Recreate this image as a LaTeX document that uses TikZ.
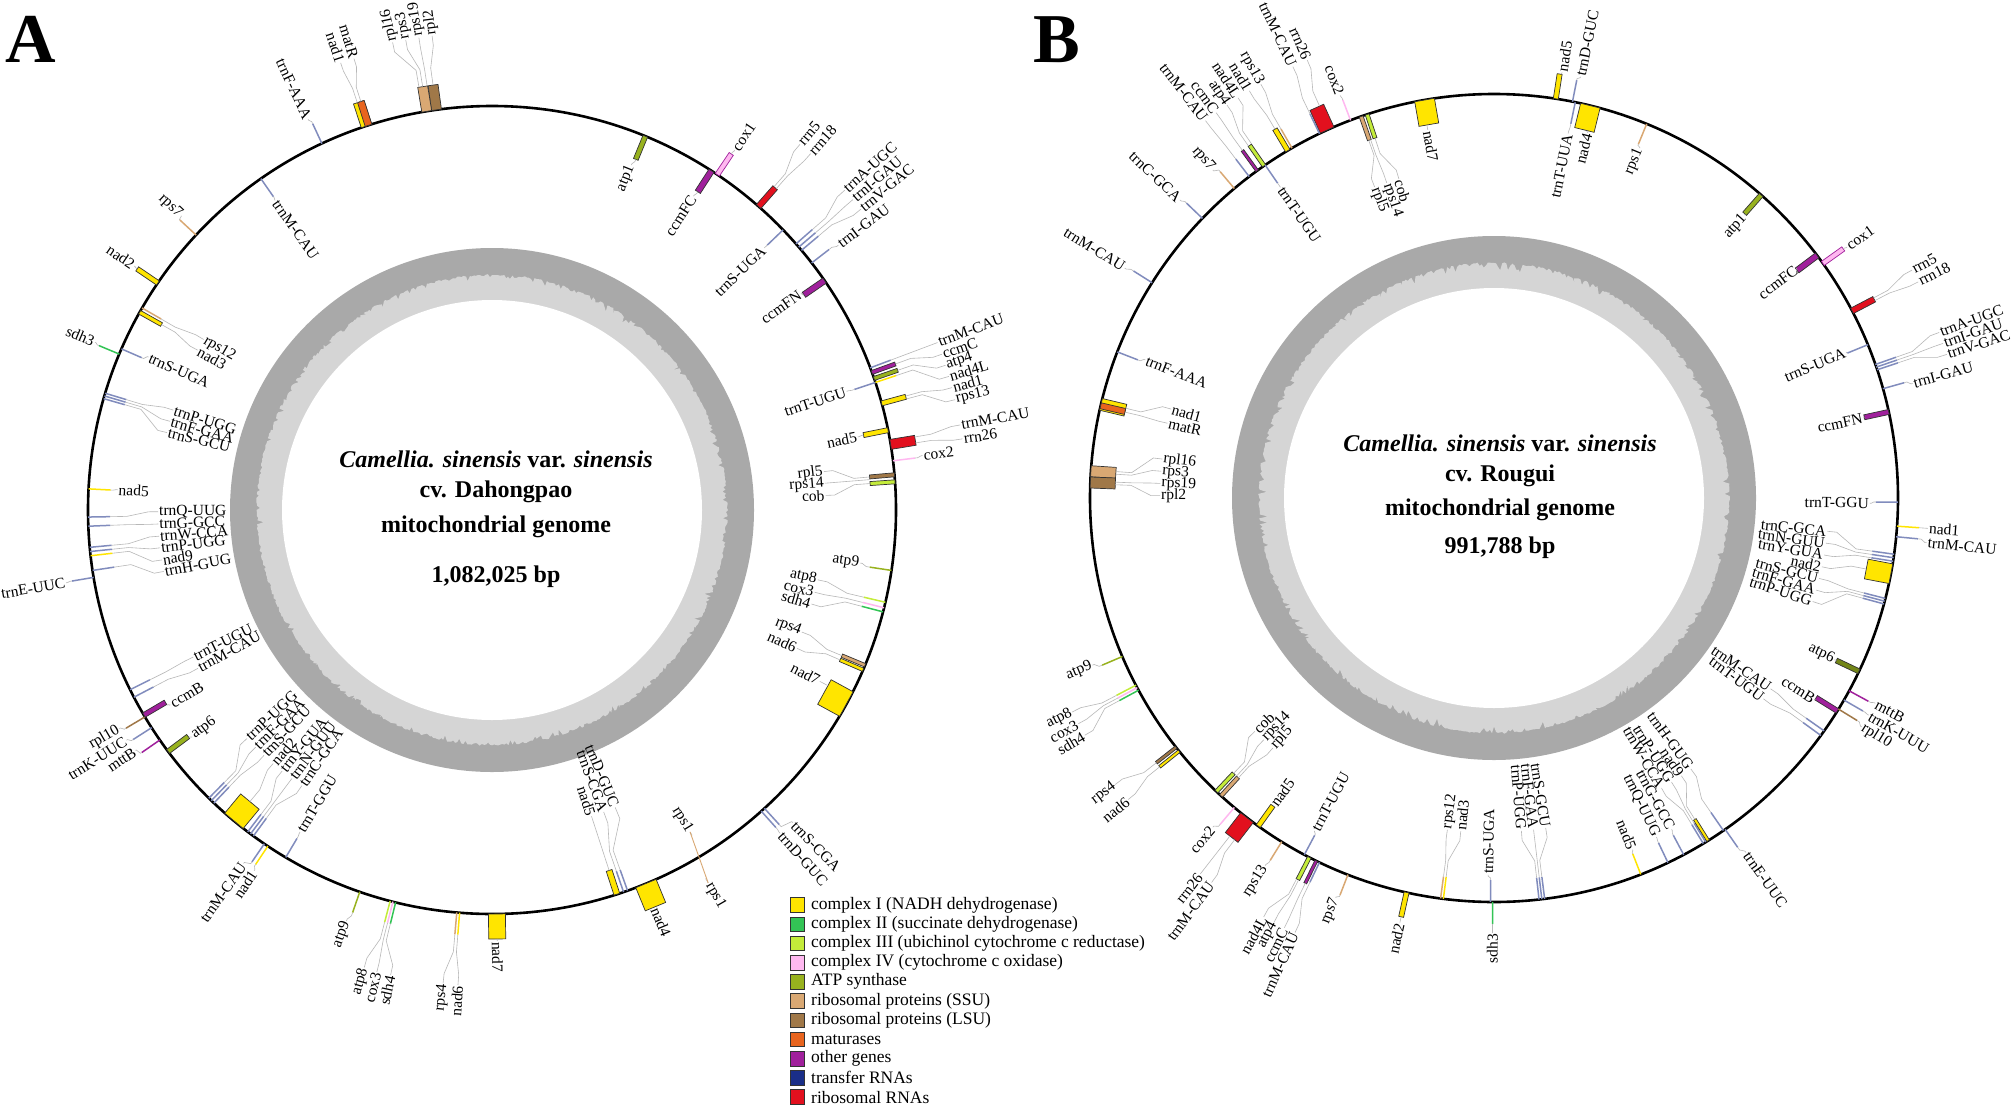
\documentclass[tikz,border=0pt]{standalone}
\usepackage{fontspec}
\setmainfont{Liberation Serif}
\definecolor{cI}{HTML}{FFE500}
\definecolor{cII}{HTML}{33C455}
\definecolor{cIII}{HTML}{C4EC3A}
\definecolor{cIV}{HTML}{FFB8F0}
\definecolor{cATP}{HTML}{98B21E}
\definecolor{cSSU}{HTML}{D9A873}
\definecolor{cLSU}{HTML}{A07848}
\definecolor{cMAT}{HTML}{E8641E}
\definecolor{cOTH}{HTML}{A0209C}
\definecolor{cTRNA}{HTML}{1A2E88}
\definecolor{cRRNA}{HTML}{E2101E}
\colorlet{ctr}{cTRNA!55}
\definecolor{gcdark}{HTML}{A9A9A9}
\definecolor{gclight}{HTML}{D5D5D5}
\tikzset{
  glab/.style={font=\fontsize{15.5}{17}\selectfont, inner sep=1pt},
  lead/.style={draw=black!28, line width=0.6pt},
  gedge/.style={draw=black!80, line width=0.7pt},
  ctext/.style={font=\fontsize{24}{28}\selectfont\bfseries, anchor=base, inner sep=0pt},
  legbox/.style={draw=black!80, line width=0.7pt, minimum size=14.5pt, inner sep=0pt},
  legtxt/.style={font=\fontsize{17.5}{19}\selectfont, anchor=west, inner sep=0pt},
  plab/.style={font=\fontsize{70}{72}\selectfont\bfseries, anchor=base, inner sep=0pt}
}
\newcounter{nl}
% outward reading, anchor west (outside, right-hand style)
\newcommand{\labO}[5]{\stepcounter{nl}\node[glab,anchor=west,rotate={#1}] (n\thenl) at ({#1}:{#2}) {#3};
  \draw[lead] ({#4}:{#5}) -- ({#4}:{#5+0.35*(#2-#5)}) -- ({#1}:{#2-0.2*(#2-#5)}) -- (n\thenl.west);}
% outward reading, anchor east (inside, right-hand style)
\newcommand{\labOE}[5]{\stepcounter{nl}\node[glab,anchor=east,rotate={#1}] (n\thenl) at ({#1}:{#2}) {#3};
  \draw[lead] ({#4}:{#5}) -- ({#4}:{#5+0.35*(#2-#5)}) -- ({#1}:{#2-0.2*(#2-#5)}) -- (n\thenl.east);}
% inward reading, anchor west (inside, left-hand style)
\newcommand{\labI}[5]{\stepcounter{nl}\node[glab,anchor=west,rotate={#1+180}] (n\thenl) at ({#1}:{#2}) {#3};
  \draw[lead] ({#4}:{#5}) -- ({#4}:{#5+0.35*(#2-#5)}) -- ({#1}:{#2-0.2*(#2-#5)}) -- (n\thenl.west);}
% inward reading, anchor east (outside, left-hand style)
\newcommand{\labIE}[5]{\stepcounter{nl}\node[glab,anchor=east,rotate={#1+180}] (n\thenl) at ({#1}:{#2}) {#3};
  \draw[lead] ({#4}:{#5}) -- ({#4}:{#5+0.35*(#2-#5)}) -- ({#1}:{#2-0.2*(#2-#5)}) -- (n\thenl.east);}
\newcommand{\genebox}[4]{\filldraw[rotate={#1}, fill=#4, gedge] (404,{-(#2)/2}) rectangle ({404+(#3)},{(#2)/2});}
\newcommand{\genetick}[3]{\draw[#3, line width=1.5pt] ({#1}:404) -- ({#1}:{404+(#2)});}
\newcommand{\gcring}{%
  \fill[gcdark] (0,0) circle[radius=262];
  \fill[gclight] (0:236) \foreach \a in {1,...,719} { -- ({\a/2}:{236-8*pow(rnd,6)-1.3*rnd}) } -- cycle;
  \fill[white] (0,0) circle[radius=210];}
\begin{document}
\begin{tikzpicture}[x=1pt,y=1pt]
\pgfmathsetseed{7}
\useasboundingbox (0,-1111) rectangle (2013,0);
\fill[white] (0,-1111) rectangle (2013,0);

\node[plab] (pA) at (31,-62) {A};
\node[plab] (pB) at (1057,-62) {B};

%================ PANEL A =================
\begin{scope}[shift={(492,-510)}]
\gcring
\draw[line width=2.6pt] (0,0) circle[radius=404];
% genes
\genebox{97.9}{10}{25}{cLSU}
\genebox{99.3}{10}{25}{cSSU}
\genebox{108.1}{11}{25}{cI}
\genebox{107.8}{7}{25}{cMAT}
\genetick{114.9}{22}{ctr}
\genebox{67.7}{5}{-25}{cATP}
\genebox{57.1}{6}{-25}{cOTH}
\filldraw[rotate=56.1, fill=cIV, draw=cOTH, line width=0.7pt] (404,-2.5) rectangle (429,2.5);
\genebox{48.7}{6}{25}{cRRNA}
\genetick{41.2}{22}{ctr}\genetick{40.6}{22}{ctr}\genetick{40.0}{22}{ctr}\genetick{37.7}{22}{ctr}
\genetick{43.9}{-22}{ctr}
\genebox{34.6}{6}{-25}{cOTH}
\genetick{20.6}{22}{ctr}
\genebox{19.9}{4}{25}{cOTH}
\genebox{19.0}{4}{25}{cATP}
\genetick{18.4}{22}{cI}
\genebox{15.3}{5}{25}{cI}
\genetick{18.4}{-22}{ctr}
\genebox{11.4}{5}{-25}{cI}
\genebox{9.35}{10}{25}{cRRNA}
\genetick{7.0}{22}{cIV}
\genebox{5.0}{4}{-25}{cLSU}
\genebox{4.0}{4}{-25}{cIII}
\genetick{-8.6}{-22}{cATP}
\genetick{-13.2}{-22}{cIII}\genetick{-14.0}{-22}{cIV}\genetick{-14.6}{-22}{cII}
\genebox{-22.6}{3.5}{-25}{cSSU}\genebox{-23.3}{3.5}{-25}{cI}
\genebox{-28.7}{28}{-25}{cI}
\genetick{-47.6}{22}{ctr}\genetick{-48.2}{22}{ctr}
\genebox{-67.6}{22}{25}{cI}
\genebox{-72.0}{6}{-25}{cI}
\genetick{-70.4}{-22}{ctr}\genetick{-71.0}{-22}{ctr}
\genebox{-89.3}{17}{25}{cI}
\genetick{265.0}{22}{cSSU}\genetick{265.4}{22}{cI}
\genetick{255.4}{22}{cIII}\genetick{255.8}{22}{cIV}\genetick{256.2}{22}{cII}
\genetick{250.9}{22}{cATP}
\genetick{239.3}{-22}{ctr}
\genetick{236.3}{22}{cI}\genetick{235.7}{22}{ctr}
\genebox{230.3}{24}{-25}{cI}
\genetick{225.5}{-22}{ctr}\genetick{226.0}{-22}{ctr}\genetick{226.5}{-22}{ctr}
\genetick{232.8}{-22}{ctr}\genetick{233.3}{-22}{ctr}\genetick{233.8}{-22}{ctr}
\genetick{210.8}{22}{cLSU}\genetick{212.6}{22}{ctr}\genetick{214.7}{22}{cOTH}
\genebox{210.5}{5}{-25}{cOTH}
\genebox{216.7}{5}{-25}{cATP}
\genetick{206.4}{-22}{ctr}\genetick{207.6}{-22}{ctr}
\genetick{189.6}{22}{ctr}
\genetick{181.0}{-22}{ctr}\genetick{182.3}{-22}{ctr}\genetick{185.3}{-22}{ctr}\genetick{185.9}{-22}{ctr}\genetick{186.5}{-22}{cI}\genetick{188.6}{-22}{ctr}
\genetick{177.0}{-22}{cI}
\genetick{163.2}{-22}{ctr}\genetick{163.6}{-22}{ctr}\genetick{164.0}{-22}{ctr}
\genetick{157.3}{22}{cII}\genetick{156.5}{-22}{ctr}
\genetick{150.0}{-22}{cSSU}\genebox{150.7}{4}{-25}{cI}
\genebox{145.8}{5}{25}{cI}
\genetick{137.1}{22}{cSSU}
\genetick{124.9}{-22}{ctr}
% labels
\labIE{115.2}{432}{trnF-AAA}{114.9}{426}
\labIE{107.0}{472}{matR}{107.8}{429}
\labIE{108.7}{472}{nad1}{108.3}{429}
\labO{97.2}{478}{rpl2}{97.9}{429}
\labO{98.8}{478}{rps19}{98.7}{429}
\labO{100.4}{478}{rps3}{99.3}{429}
\labO{102.0}{478}{rpl16}{99.8}{429}
\labOE{68.0}{372}{atp1}{67.7}{379}
\labOE{57.3}{373}{ccmFC}{57.1}{379}
\labO{56.0}{434}{cox1}{56.1}{429}
\labO{49.9}{478}{rrn5}{48.9}{429}
\labO{48.2}{478}{rrn18}{48.5}{429}
\labO{42.2}{476}{trnA-UGC}{41.2}{426}
\labO{40.7}{476}{trnI-GAU}{40.6}{426}
\labO{39.2}{476}{trnV-GAC}{40.0}{426}
\labO{37.4}{436}{trnI-GAU}{37.7}{426}
\labOE{43.9}{378}{trnS-UGA}{43.9}{382}
\labOE{35.0}{377}{ccmFN}{34.6}{379}
\labO{20.6}{476}{trnM-CAU}{20.6}{426}
\labO{19.1}{476}{ccmC}{19.9}{429}
\labO{17.7}{476}{atp4}{19.0}{429}
\labO{16.3}{476}{nad4L}{18.4}{426}
\labO{14.9}{476}{nad1}{15.4}{429}
\labO{13.4}{476}{rps13}{15.0}{429}
\labOE{18.5}{374}{trnT-UGU}{18.4}{382}
\labOE{11.3}{373}{nad5}{11.4}{379}
\labO{10.3}{476}{trnM-CAU}{9.8}{429}
\labO{8.6}{476}{rrn26}{9.0}{429}
\labO{7.2}{434}{cox2}{7.0}{426}
\labOE{6.6}{334}{rpl5}{5.0}{379}
\labOE{4.6}{334}{rps14}{4.6}{379}
\labOE{2.5}{334}{cob}{4.0}{379}
\labOE{-8.2}{372}{atp9}{-8.6}{382}
\labOE{-12.1}{333}{atp8}{-13.2}{382}
\labOE{-14.3}{333}{cox3}{-14.0}{382}
\labOE{-16.4}{333}{sdh4}{-14.6}{382}
\labOE{-21.5}{333}{rps4}{-22.6}{379}
\labOE{-24.4}{335}{nad6}{-23.3}{379}
\labOE{-27.6}{370}{nad7}{-27.6}{379}
\labO{-46.1}{434}{trnS-CGA}{-47.6}{426}
\labO{-48.3}{433}{trnD-GUC}{-48.2}{426}
\labOE{-58.4}{378}{rps1}{-58.4}{382}
\edef\rpsin{n\thenl}
\labO{-59.9}{431}{rps1}{-59.9}{426}
\edef\rpsout{n\thenl}
\draw[cSSU, line width=0.9pt] (\rpsin.east) -- (\rpsout.west);
\labO{-67.7}{429}{nad4}{-67.7}{429}
\labOE{-67.5}{322}{trnD-GUC}{-70.4}{382}
\labOE{-69.7}{322}{trnS-CGA}{-71.0}{382}
\labOE{-72.0}{322}{nad5}{-72.0}{379}
\labO{-89.3}{431}{nad7}{-89.3}{429}
\labIE{264.1}{476}{rps4}{265.0}{426}
\labIE{265.9}{476}{nad6}{265.4}{426}
\labIE{254.4}{475}{atp8}{255.4}{426}
\labIE{256.0}{476}{cox3}{255.8}{426}
\labIE{257.7}{476}{sdh4}{256.2}{426}
\labIE{250.5}{436}{atp9}{250.9}{426}
\labI{239.2}{375}{trnT-GGU}{239.3}{382}
\labIE{234.9}{432}{trnM-CAU}{235.7}{426}
\labIE{236.6}{432}{nad1}{236.3}{426}
\labI{223.0}{335}{trnP-UGG}{225.5}{382}
\labI{225.1}{335}{trnF-GAA}{226.0}{382}
\labI{227.1}{335}{trnS-GCU}{226.5}{382}
\labI{229.2}{335}{nad2}{230.3}{379}
\labI{231.2}{335}{trnY-GUA}{232.8}{382}
\labI{233.3}{335}{trnN-GUU}{233.3}{382}
\labI{235.4}{335}{trnC-GCA}{233.8}{382}
\labIE{210.4}{432}{rpl10}{210.8}{426}
\labIE{212.2}{432}{trnK-UUC}{212.6}{426}
\labIE{214.0}{430}{mttB}{214.7}{426}
\labI{211.2}{376}{ccmB}{211.0}{379}
\labI{217.1}{376}{atp6}{216.9}{379}
\labI{206.2}{333}{trnT-UGU}{206.4}{382}
\labI{208.3}{334}{trnM-CAU}{207.6}{382}
\labIE{189.7}{432}{trnE-UUC}{189.6}{426}
\labI{180.3}{334}{trnQ-UUG}{181.0}{382}
\labI{182.4}{334}{trnG-GCC}{182.3}{382}
\labI{184.5}{334}{trnW-CCA}{185.3}{382}
\labI{186.5}{334}{trnP-UGG}{185.9}{382}
\labI{188.6}{334}{nad9}{186.5}{382}
\labI{190.6}{334}{trnH-GUG}{188.6}{382}
\labI{176.9}{375}{nad5}{177.0}{382}
\labI{162.6}{334}{trnP-UGG}{163.2}{382}
\labI{164.6}{334}{trnF-GAA}{163.6}{382}
\labI{166.6}{334}{trnS-GCU}{164.0}{382}
\labIE{157.1}{431}{sdh3}{157.3}{426}
\labI{156.0}{376}{trnS-UGA}{156.5}{382}
\labI{149.4}{335}{rps12}{150.0}{382}
\labI{151.5}{335}{nad3}{150.7}{379}
\labIE{145.7}{433}{nad2}{145.8}{429}
\labIE{136.6}{428}{rps7}{137.1}{426}
\labI{125.0}{378}{trnM-CAU}{124.9}{382}
\end{scope}
\node[ctext] (a1) at (496,-467) {\textit{Camellia. sinensis} var. \textit{sinensis}};
\node[ctext] (a2) at (496,-497) {cv. Dahongpao};
\node[ctext] (a3) at (496,-532) {mitochondrial genome};
\node[ctext] (a4) at (496,-582) {1,082,025 bp};

%================ PANEL B =================
\begin{scope}[shift={(1494,-498)}]
\gcring
\draw[line width=2.6pt] (0,0) circle[radius=404];
% genes
\genebox{99.9}{20}{-25}{cI}
\genebox{109.2}{4}{-25}{cSSU}\genebox{108.3}{4}{-25}{cIII}
\genetick{110.8}{22}{cIV}
\genebox{114.4}{15}{25}{cRRNA}\genetick{115.6}{22}{ctr}
\genebox{120.7}{5}{25}{cI}\genetick{120.0}{22}{cSSU}
\genebox{124.7}{4}{25}{cIII}
\genebox{125.9}{3}{25}{cOTH}
\genetick{127.3}{22}{ctr}
\genetick{124.5}{-22}{ctr}
\genetick{130.0}{22}{cSSU}
\genetick{136.2}{22}{ctr}
\genetick{147.8}{22}{ctr}
\genetick{158.8}{-22}{ctr}
\genebox{166.6}{12}{-25}{cI}\genebox{166.8}{6}{-25}{cMAT}
\genebox{176.2}{11}{-25}{cSSU}\genebox{177.8}{11}{-25}{cLSU}
\genetick{203.1}{22}{cATP}
\genetick{207.6}{22}{cIII}\genetick{208.0}{22}{cIV}\genetick{208.4}{22}{cII}
\genebox{218.1}{3}{25}{cLSU}\genebox{218.8}{3}{25}{cI}
\genebox{226.6}{4}{-25}{cIII}\genebox{227.5}{4}{-25}{cSSU}
\genetick{230.0}{22}{cIV}
\genebox{232.3}{16}{25}{cRRNA}
\genebox{234.3}{5}{-25}{cI}
\genetick{238.3}{22}{cSSU}
\genetick{242.0}{-22}{ctr}
\genebox{242.8}{4}{25}{cIII}\genebox{243.9}{3}{25}{cOTH}\genetick{244.4}{22}{ctr}
\genetick{248.8}{22}{cSSU}
\genebox{257.5}{5}{25}{cI}
\genetick{262.4}{-22}{cSSU}\genetick{262.8}{-22}{cI}
\genetick{269.5}{-22}{ctr}
\genetick{269.8}{22}{cII}
\genetick{-82.8}{-22}{ctr}\genetick{-83.2}{-22}{ctr}\genetick{-83.6}{-22}{ctr}
\genetick{-68.7}{-22}{cI}
\genetick{-64.5}{-22}{ctr}\genetick{-62.0}{-22}{ctr}\genetick{-58.8}{-22}{ctr}\genetick{-58.4}{-22}{ctr}\genebox{-58.0}{3}{-25}{cI}\genetick{-55.4}{-22}{ctr}
\genetick{-55.1}{22}{ctr}
\genetick{-35.2}{-22}{ctr}\genetick{-36.0}{-22}{ctr}
\genebox{-31.8}{5}{-25}{cOTH}
\genetick{-28.5}{22}{cOTH}\genetick{-30.0}{22}{ctr}\genetick{-31.5}{22}{cLSU}
\genebox{-25.4}{5}{-25}{cATP!75!black}
\genebox{-10.8}{20}{-25}{cI}
\genetick{-8.0}{-22}{ctr}\genetick{-8.5}{-22}{ctr}\genetick{-9.0}{-22}{ctr}
\genetick{-14.4}{-22}{ctr}\genetick{-14.8}{-22}{ctr}\genetick{-15.2}{-22}{ctr}
\genetick{-0.6}{-22}{ctr}
\genetick{-4.0}{22}{cI}\genetick{-5.5}{22}{ctr}
\genebox{12.3}{5}{-25}{cOTH}
\genetick{15.7}{22}{ctr}
\genetick{19.3}{22}{ctr}\genetick{18.9}{22}{ctr}\genetick{18.5}{22}{ctr}
\genetick{22.3}{-22}{ctr}
\genebox{27.6}{6}{25}{cRRNA}
\genebox{36.9}{6}{-25}{cOTH}
\filldraw[rotate=35.5, fill=cIV, draw=cOTH, line width=0.7pt] (404,-2.5) rectangle (429,2.5);
\genebox{48.6}{5}{-25}{cATP}
\genetick{67.8}{-22}{cSSU}
\genebox{76.2}{20}{-25}{cI}
\genetick{78.4}{-22}{ctr}
\genebox{81.2}{5}{25}{cI}
\genetick{78.8}{22}{ctr}
% labels
\labI{100.2}{374}{nad7}{100.2}{379}
\labI{106.6}{333}{cob}{108.3}{379}
\labI{108.8}{333}{rps14}{109.0}{379}
\labI{111.0}{333}{rpl5}{109.3}{379}
\labIE{110.9}{431}{cox2}{110.8}{426}
\labIE{113.1}{476}{rrn26}{114.0}{429}
\labIE{115.0}{476}{trnM-CAU}{115.6}{426}
\labIE{119.4}{475}{rps13}{120.0}{426}
\labIE{121.0}{475}{nad1}{120.7}{429}
\labIE{122.6}{475}{nad4L}{124.4}{429}
\labIE{124.2}{475}{atp4}{124.9}{429}
\labIE{125.8}{475}{ccmC}{125.9}{429}
\labIE{127.4}{475}{trnM-CAU}{127.3}{426}
\labI{124.5}{377}{trnT-UGU}{124.5}{382}
\labIE{130.6}{432}{rps7}{130.0}{426}
\labIE{136.5}{433}{trnC-GCA}{136.2}{426}
\labIE{148.1}{435}{trnM-CAU}{147.8}{426}
\labI{158.4}{375}{trnF-AAA}{158.8}{382}
\labI{164.6}{335}{nad1}{166.3}{379}
\labI{167.1}{335}{matR}{166.9}{379}
\labI{173.3}{334}{rpl16}{176.0}{379}
\labI{175.4}{334}{rps3}{176.4}{379}
\labI{177.5}{334}{rps19}{177.6}{379}
\labI{179.6}{334}{rpl2}{178.0}{379}
\labIE{202.6}{435}{atp9}{203.1}{426}
\labIE{206.9}{473}{atp8}{207.6}{426}
\labIE{208.5}{473}{cox3}{208.0}{426}
\labIE{210.1}{473}{sdh4}{208.4}{426}
\labIE{217.1}{475}{rps4}{218.1}{429}
\labIE{219.5}{474}{nad6}{218.8}{429}
\labI{224.3}{334}{cob}{226.6}{379}
\labI{226.4}{334}{rps14}{227.2}{379}
\labI{228.5}{334}{rpl5}{227.6}{379}
\labIE{229.5}{433}{cox2}{230.0}{426}
\labIE{232.0}{477}{rrn26}{232.0}{429}
\labIE{233.7}{477}{trnM-CAU}{232.8}{429}
\labI{234.3}{379}{nad5}{234.3}{379}
\labIE{238.1}{433}{rps13}{238.3}{426}
\labI{241.7}{378}{trnT-UGU}{242.0}{382}
\labIE{241.2}{478}{nad4L}{242.6}{429}
\labIE{242.6}{478}{atp4}{242.9}{429}
\labIE{244.0}{478}{ccmC}{243.9}{429}
\labIE{245.4}{478}{trnM-CAU}{244.4}{426}
\labIE{248.4}{430}{rps7}{248.8}{426}
\labIE{257.5}{435}{nad2}{257.5}{429}
\labI{262.0}{335}{rps12}{262.4}{382}
\labI{264.3}{335}{nad3}{262.8}{382}
\labI{269.1}{377}{trnS-UGA}{269.5}{382}
\labIE{269.8}{435}{sdh3}{269.8}{426}
\labOE{-85.3}{334}{trnP-UGG}{-83.6}{382}
\labOE{-83.2}{334}{trnF-GAA}{-83.2}{382}
\labOE{-81.1}{334}{trnS-GCU}{-82.8}{382}
\labOE{-68.5}{378}{nad5}{-68.7}{382}
\labOE{-64.4}{376}{trnQ-UUG}{-64.5}{382}
\labOE{-61.8}{376}{trnG-GCC}{-62.0}{382}
\labOE{-60.0}{335}{trnW-CCA}{-58.8}{382}
\labOE{-58.0}{335}{trnP-UGG}{-58.4}{382}
\labOE{-56.0}{335}{nad9}{-58.0}{379}
\labOE{-54.0}{335}{trnH-GUG}{-55.4}{382}
\labO{-54.6}{435}{trnE-UUC}{-55.1}{426}
\labOE{-34.6}{336}{trnM-CAU}{-35.2}{382}
\labOE{-36.7}{336}{trnT-UGU}{-36.0}{382}
\labOE{-32.2}{379}{ccmB}{-32.0}{379}
\labO{-28.3}{433}{mttB}{-28.5}{426}
\labO{-30.1}{433}{trnK-UUU}{-30.0}{426}
\labO{-31.9}{433}{rpl10}{-31.5}{426}
\labOE{-25.4}{377}{atp6}{-25.4}{379}
\labOE{-5.7}{335}{trnC-GCA}{-8.0}{382}
\labOE{-7.75}{335}{trnN-GUU}{-8.5}{382}
\labOE{-9.8}{335}{trnY-GUA}{-9.0}{382}
\labOE{-11.85}{335}{nad2}{-10.8}{379}
\labOE{-13.9}{335}{trnS-GCU}{-14.4}{382}
\labOE{-15.95}{335}{trnF-GAA}{-14.8}{382}
\labOE{-18.0}{335}{trnP-UGG}{-15.2}{382}
\labOE{-0.8}{376}{trnT-GGU}{-0.6}{382}
\labO{-4.0}{435}{nad1}{-4.0}{426}
\labO{-5.9}{435}{trnM-CAU}{-5.5}{426}
\labOE{12.2}{378}{ccmFN}{12.3}{379}
\labO{15.3}{434}{trnI-GAU}{15.7}{426}
\labO{20.4}{475}{trnA-UGC}{19.3}{426}
\labO{19.0}{475}{trnI-GAU}{18.9}{426}
\labO{17.6}{475}{trnV-GAC}{18.5}{426}
\labOE{22.5}{381}{trnS-UGA}{22.3}{382}
\labO{28.6}{476}{rrn5}{27.8}{429}
\labO{27.0}{476}{rrn18}{27.4}{429}
\labOE{37.2}{380}{ccmFC}{37.0}{379}
\labO{35.4}{433}{cox1}{35.5}{429}
\labOE{48.4}{378}{atp1}{48.5}{379}
\labOE{67.4}{379}{rps1}{67.8}{382}
\labOE{75.6}{377}{nad4}{75.8}{379}
\labOE{78.5}{372}{trnT-UUA}{78.4}{382}
\labO{80.9}{431}{nad5}{81.0}{429}
\labO{78.4}{430}{trnD-GUC}{78.8}{426}
\end{scope}
\node[ctext] (b1) at (1500,-451) {\textit{Camellia. sinensis} var. \textit{sinensis}};
\node[ctext] (b2) at (1500,-481) {cv. Rougui};
\node[ctext] (b3) at (1500,-515) {mitochondrial genome};
\node[ctext] (b4) at (1500,-553) {991,788 bp};

%================ LEGEND =================
\node[legbox, fill=cI]    (lb1)  at (797.5,-905.0) {};
\node[legbox, fill=cII]   (lb2)  at (797.5,-924.2) {};
\node[legbox, fill=cIII]  (lb3)  at (797.5,-943.4) {};
\node[legbox, fill=cIV]   (lb4)  at (797.5,-962.6) {};
\node[legbox, fill=cATP]  (lb5)  at (797.5,-981.8) {};
\node[legbox, fill=cSSU]  (lb6)  at (797.5,-1001.0) {};
\node[legbox, fill=cLSU]  (lb7)  at (797.5,-1020.2) {};
\node[legbox, fill=cMAT]  (lb8)  at (797.5,-1039.4) {};
\node[legbox, fill=cOTH]  (lb9)  at (797.5,-1058.6) {};
\node[legbox, fill=cTRNA] (lb10) at (797.5,-1077.8) {};
\node[legbox, fill=cRRNA] (lb11) at (797.5,-1097.0) {};
\node[legtxt] (lt1)  at (811,-905.0) {complex I (NADH dehydrogenase)};
\node[legtxt] (lt2)  at (811,-924.2) {complex II (succinate dehydrogenase)};
\node[legtxt] (lt3)  at (811,-943.4) {complex III (ubichinol cytochrome c reductase)};
\node[legtxt] (lt4)  at (811,-962.6) {complex IV (cytochrome c oxidase)};
\node[legtxt] (lt5)  at (811,-981.8) {ATP synthase};
\node[legtxt] (lt6)  at (811,-1001.0) {ribosomal proteins (SSU)};
\node[legtxt] (lt7)  at (811,-1020.2) {ribosomal proteins (LSU)};
\node[legtxt] (lt8)  at (811,-1039.4) {maturases};
\node[legtxt] (lt9)  at (811,-1058.6) {other genes};
\node[legtxt] (lt10) at (811,-1077.8) {transfer RNAs};
\node[legtxt] (lt11) at (811,-1097.0) {ribosomal RNAs};
\end{tikzpicture}
\end{document}
